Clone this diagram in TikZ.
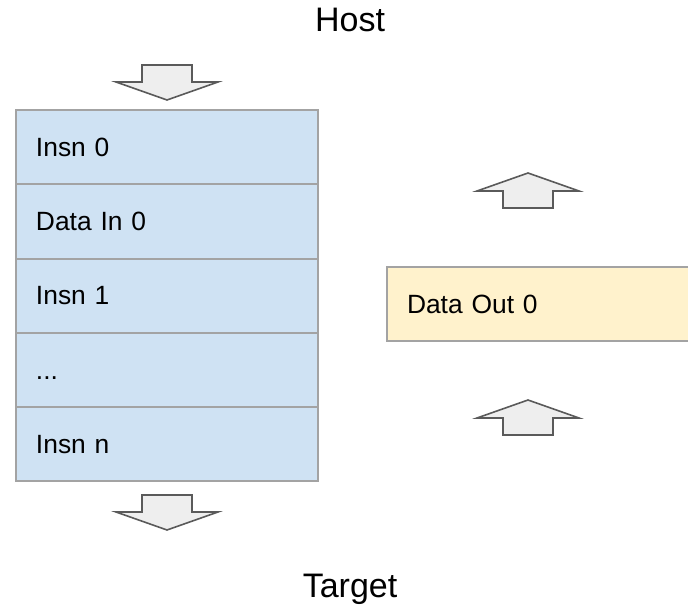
\documentclass[tikz,border=0pt]{standalone}
\usepackage{fontspec}
\setmainfont{Liberation Sans}
\usetikzlibrary{positioning}
\definecolor{rowblue}{HTML}{CFE2F3}
\definecolor{outyellow}{HTML}{FFF2CC}
\definecolor{rowline}{HTML}{A3A3A3}
\definecolor{arrowline}{HTML}{5A5A5A}
\definecolor{arrowfill}{HTML}{EEEEEE}
\tikzstyle{title} = [font=\fontsize{25.5}{30}\selectfont, inner sep=0pt, anchor=base]
\tikzstyle{row} = [rectangle, draw=rowline, line width=1.5pt, fill=rowblue, minimum width=226.5pt, minimum height=55.7pt, text width=196.5pt, text height=14pt, text depth=0pt, inner xsep=15pt, inner ysep=0pt, outer sep=0pt, align=left, font=\fontsize{19.8}{23}\selectfont, anchor=north west]
\tikzstyle{outrow} = [row, fill=outyellow]
\tikzset{
    blockarrow/.style={
        draw=arrowline,
        fill=arrowfill,
        line width=1.2pt,
        line join=miter
    },
    down arrow/.pic={
        \path[blockarrow] (-25,-17) -- (25,-17) -- (25,0) -- (51,0) -- (0,18) -- (-51,0) -- (-25,0) -- cycle;
    },
    up arrow/.pic={
        \path[blockarrow] (-25,17) -- (25,17) -- (25,0) -- (51,0) -- (0,-18) -- (-51,0) -- (-25,0) -- cycle;
    }
}

\begin{document}
\begin{tikzpicture}[x=0.75pt, y=-0.75pt]
	\useasboundingbox (0,0) rectangle (688,605);
	\node (host) [title] at (350,32) {Host};
	\node (target) [title] at (350,597) {Target};
	\node (insn0) [row] at (16,110) {Insn 0};
	\node (datain0) [row, below = 0pt of insn0] {Data In 0};
	\node (insn1) [row, below = 0pt of datain0] {Insn 1};
	\node (dots) [row, below = 0pt of insn1] {...};
	\node (insnn) [row, below = 0pt of dots] {Insn n};
	\node (dataout0) [outrow] at (387,267) {Data Out 0};
	\pic (inarrow) at (167,82) {down arrow};
	\pic (outarrow) at (167,512) {down arrow};
	\pic (retarrow0) at (528,191) {up arrow};
	\pic (retarrow1) at (528,418) {up arrow};
\end{tikzpicture}
\end{document}
